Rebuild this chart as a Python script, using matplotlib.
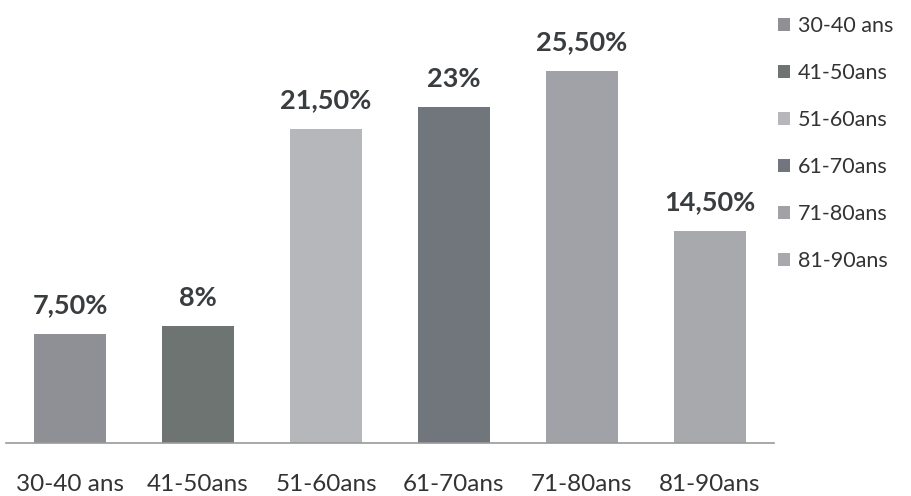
import matplotlib
matplotlib.use("Agg")
import matplotlib.pyplot as plt
from matplotlib.patches import Patch

categories = ["30-40 ans", "41-50ans", "51-60ans", "61-70ans", "71-80ans", "81-90ans"]
values = [7.5, 8, 21.5, 23, 25.5, 14.5]
value_labels = ["7,50%", "8%", "21,50%", "23%", "25,50%", "14,50%"]
colors = ["#8f9096", "#6e7472", "#b5b7bb", "#71767d", "#a0a2a8", "#a7a9ad"]

plt.rcParams["font.family"] = ["Lato", "DejaVu Sans"]

fig = plt.figure(figsize=(9.12, 4.96), dpi=100)
ax = fig.add_axes([6 / 912, (496 - 443) / 496, 768 / 912, 438 / 496])

x = range(len(categories))
ax.bar(x, values, width=0.57, color=colors, zorder=2)
for xi, v, lab in zip(x, values, value_labels):
    ax.annotate(lab, (xi, v), xytext=(0, 12), textcoords="offset points",
                ha="center", va="bottom", fontsize=19.5, fontweight="bold",
                color="#3a3d3f")

ax.set_xlim(-0.5, len(categories) - 0.5)
ax.set_ylim(0, 30)
ax.set_yticks([])
ax.set_xticks(list(x))
ax.set_xticklabels(categories, fontsize=17.5, color="#333333")
ax.tick_params(axis="x", length=0, pad=22)
for side in ("top", "right", "left"):
    ax.spines[side].set_visible(False)
ax.spines["bottom"].set_color("#9a9a9a")
ax.spines["bottom"].set_linewidth(1.2)

handles = [Patch(facecolor=c, edgecolor="none") for c in colors]
fig.legend(handles, categories, loc="upper left", bbox_to_anchor=(762 / 912, 1.0),
           frameon=False, fontsize=15.5, handlelength=0.55, handleheight=0.55,
           handletextpad=0.35, labelspacing=1.25, labelcolor="#333333",
           borderaxespad=0.35)

fig.savefig("out.png", dpi=100)
